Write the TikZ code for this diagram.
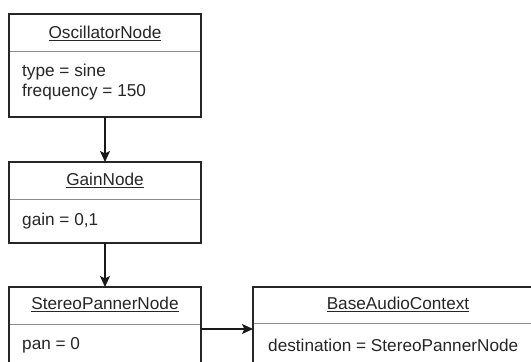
\documentclass[tikz,border=0pt]{standalone}
\usepackage{fontspec}
\setmainfont{Liberation Sans}
\usetikzlibrary{arrows.meta}

\tikzset{
  classbox/.style={draw=black!85, line width=1.3pt, fill=white, rectangle,
    inner sep=0pt, outer sep=0pt, anchor=north west},
  divider/.style={draw=black!45, line width=1pt},
  title/.style={text=black!85, inner sep=0pt, anchor=center,
    font=\fontsize{17.2}{20}\selectfont},
  attrs/.style={text=black!85, inner sep=0pt, anchor=west, align=left,
    font=\fontsize{17.2}{20}\selectfont},
  flow/.style={draw=black!90, line width=1.3pt,
    -{Stealth[length=11pt,width=10pt,inset=2.5pt]}},
}

\begin{document}
\begin{tikzpicture}[x=1pt,y=-1pt]
  \useasboundingbox (0,0) rectangle (531,362);
  \clip (0,0) rectangle (531,362);

  % class boxes
  \node[classbox, minimum width=192pt, minimum height=103pt] (osc) at (9,14) {};
  \node[classbox, minimum width=192pt, minimum height=81pt] (gain) at (9,162) {};
  \node[classbox, minimum width=192pt, minimum height=100pt] (pan) at (9,287) {};
  \node[classbox, minimum width=290pt, minimum height=100pt] (ctx) at (253,287) {};

  % header dividers
  \draw[divider] (9.6,51) -- (200.4,51);
  \draw[divider] (9.6,199) -- (200.4,199);
  \draw[divider] (9.6,324) -- (200.4,324);
  \draw[divider] (253.6,323) -- (542.4,323);

  % headers
  \node[title] (oscT) at (105,33) {\underline{OscillatorNode}};
  \node[title] (gainT) at (105,180) {\underline{GainNode}};
  \node[title] (panT) at (105,304) {\underline{StereoPannerNode}};
  \node[title] (ctxT) at (398,304) {\underline{BaseAudioContext}};

  % attributes
  \node[attrs] (oscA) at (22,82) {type = sine\\frequency = 150};
  \node[attrs] (gainA) at (22,221) {gain = 0,1};
  \node[attrs] (panA) at (22,345) {pan = 0};
  \node[attrs] (ctxA) at (268,345) {destination = StereoPannerNode};

  % connections
  \coordinate (panOut) at (201,329);
  \coordinate (ctxIn) at (253,329);
  \draw[flow] (osc.south) -- (gain.north);
  \draw[flow] (gain.south) -- (pan.north);
  \draw[flow] (panOut) -- (ctxIn);
\end{tikzpicture}
\end{document}
